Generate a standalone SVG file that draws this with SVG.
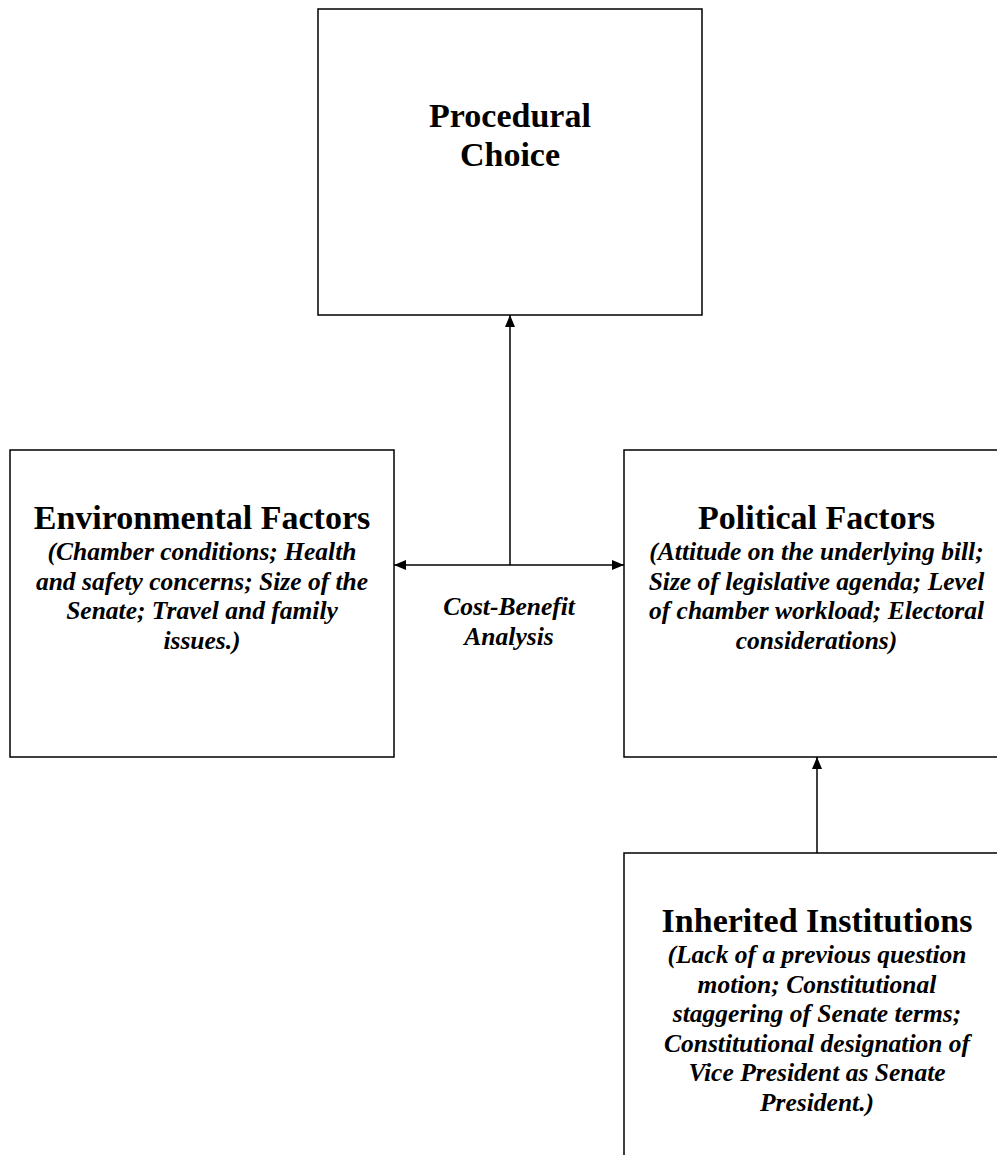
<svg xmlns="http://www.w3.org/2000/svg" width="997" height="1155" viewBox="0 0 997 1155">
<style>
.box{fill:#fff;stroke:#000;stroke-width:1.5}
.t{font-family:"Liberation Serif","Times New Roman",serif;font-weight:bold;font-size:34px;text-anchor:middle;fill:#000}
.s{font-family:"Liberation Serif","Times New Roman",serif;font-weight:bold;font-style:italic;font-size:25.5px;text-anchor:middle;fill:#000}
.c{fill:none;stroke:#000;stroke-width:1.5}
</style>
<defs>
<marker id="ah" markerUnits="userSpaceOnUse" markerWidth="12" markerHeight="10" viewBox="0 0 12 10" refX="12" refY="5" orient="auto">
<path d="M0,0 L12,5 L0,10 Z" fill="#000"/>
</marker>
<marker id="ahs" markerUnits="userSpaceOnUse" markerWidth="12" markerHeight="10" viewBox="0 0 12 10" refX="12" refY="5" orient="auto-start-reverse">
<path d="M0,0 L12,5 L0,10 Z" fill="#000"/>
</marker>
</defs>
<rect width="997" height="1155" fill="#fff"/>
<g id="procedural-choice">
<rect class="box" x="318" y="9" width="384" height="306"/>
<text class="t" x="510" y="127">Procedural</text>
<text class="t" x="510" y="166">Choice</text>
</g>
<g id="environmental-factors">
<rect class="box" x="10" y="450" width="384" height="307"/>
<text class="t" x="202" y="529">Environmental Factors</text>
<text class="s" x="202" y="560">(Chamber conditions; Health</text>
<text class="s" x="202" y="589.5">and safety concerns; Size of the</text>
<text class="s" x="202" y="619">Senate; Travel and family</text>
<text class="s" x="202" y="648.5">issues.)</text>
</g>
<g id="political-factors">
<rect class="box" x="624" y="450" width="384" height="307"/>
<text class="t" x="816.5" y="529">Political Factors</text>
<text class="s" x="816.5" y="560">(Attitude on the underlying bill;</text>
<text class="s" x="816.5" y="589.5">Size of legislative agenda; Level</text>
<text class="s" x="816.5" y="619">of chamber workload; Electoral</text>
<text class="s" x="816.5" y="648.5">considerations)</text>
</g>
<g id="inherited-institutions">
<rect class="box" x="624" y="853" width="384" height="320"/>
<text class="t" x="817" y="932">Inherited Institutions</text>
<text class="s" x="817" y="963">(Lack of a previous question</text>
<text class="s" x="817" y="992.5">motion; Constitutional</text>
<text class="s" x="817" y="1022">staggering of Senate terms;</text>
<text class="s" x="817" y="1051.5">Constitutional designation of</text>
<text class="s" x="817" y="1081">Vice President as Senate</text>
<text class="s" x="817" y="1110.5">President.)</text>
</g>
<g id="connectors">
<line class="c" x1="510" y1="565" x2="510" y2="315" marker-end="url(#ah)"/>
<line class="c" x1="394" y1="565" x2="624" y2="565" marker-start="url(#ahs)" marker-end="url(#ah)"/>
<line class="c" x1="817" y1="853" x2="817" y2="757" marker-end="url(#ah)"/>
<text class="s" x="509" y="615">Cost-Benefit</text>
<text class="s" x="509" y="644.5">Analysis</text>
</g>
</svg>
